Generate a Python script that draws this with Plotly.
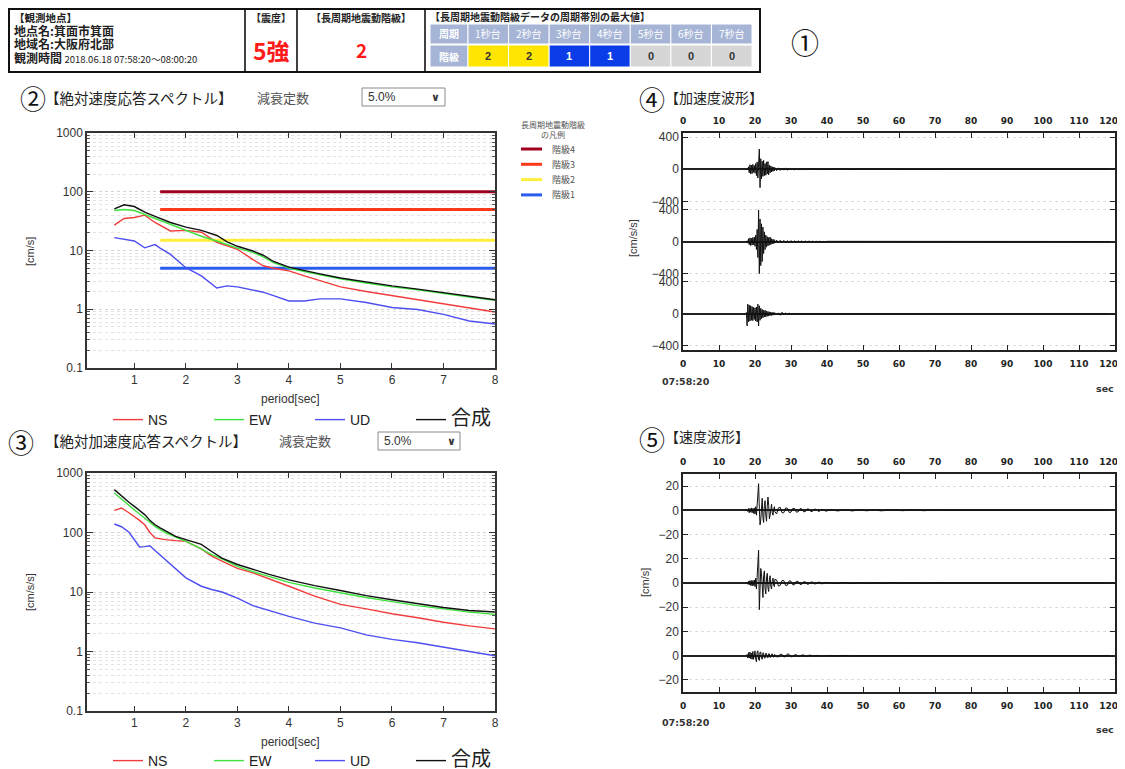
import plotly.graph_objects as go

W, H = 1125, 769
# the page body adds an 8 px margin, so reference pixel positions are shifted by it
OFF = 8
def X(px): return (px - OFF) / W
def Y(py): return 1 - (py - OFF) / H

JP = "Noto Sans CJK JP"
SANS = "Liberation Sans, Noto Sans CJK JP"

# ---------------- data ----------------
station_name = "箕面市箕面"
region_name = "大阪府北部"
obs_time = "2018.06.18 07:58:20〜08:00:20"
shindo = "5強"
lp_class = "2"
period_bands = ["1秒台", "2秒台", "3秒台", "4秒台", "5秒台", "6秒台", "7秒台"]
band_classes = [2, 2, 1, 1, 0, 0, 0]
damping = "5.0%"

# absolute velocity response spectrum [cm/s]
vel_period = [0.61, 0.8, 1.0, 1.2, 1.4, 1.5, 1.7, 2.0, 2.3, 2.6, 2.8, 3.0, 3.3, 3.5,
              3.7, 4.0, 4.3, 4.6, 5.0, 5.5, 6.0, 6.5, 7.0, 7.5, 8.0]
vel_ns = [27, 35, 36.5, 40, 30, 27, 21.5, 22, 20.5, 13.8, 12, 10.5, 7, 5.5,
          5.0, 4.5, 3.7, 3.1, 2.4, 2.0, 1.7, 1.45, 1.23, 1.05, 0.9]
vel_ew = [48, 50, 48, 41, 35, 32, 28, 22, 17.5, 14.5, 12.5, 11, 9.3, 7.8,
          6.2, 5.0, 4.4, 3.9, 3.3, 2.8, 2.4, 2.15, 1.85, 1.62, 1.42]
vel_ud = [16.6, 15.7, 14.5, 11.1, 12.6, 11, 8.6, 5.1, 3.7, 2.3, 2.5, 2.4, 2.1, 1.95,
          1.7, 1.38, 1.38, 1.5, 1.5, 1.3, 1.07, 0.99, 0.82, 0.63, 0.56]
vel_comb = [51, 60, 56, 45, 38, 35, 30, 25, 22, 18, 14, 11.8, 9.8, 8.3,
            6.5, 5.2, 4.5, 4.0, 3.4, 2.9, 2.5, 2.2, 1.9, 1.65, 1.45]

# long-period ground motion class thresholds [cm/s]
class_names = ["階級4", "階級3", "階級2", "階級1"]
class_levels = [100, 50, 15, 5]
class_period_range = [1.5, 8.0]
class_legend_title = ["長周期地震動階級", "の凡例"]

# absolute acceleration response spectrum [cm/s/s]
acc_period = [0.61, 0.75, 0.9, 1.0, 1.1, 1.2, 1.3, 1.4, 1.5, 1.6, 1.8, 2.0, 2.3, 2.5,
              2.7, 3.0, 3.3, 3.6, 4.0, 4.5, 5.0, 5.5, 6.0, 6.5, 7.0, 7.5, 8.0]
acc_ns = [235, 258, 213, 187, 160, 135, 100, 81, 78, 76, 73, 71, 53, 40,
          33, 25, 21, 17, 12.5, 8.5, 6.2, 5.2, 4.3, 3.7, 3.1, 2.7, 2.4]
acc_ew = [460, 360, 280, 240, 205, 175, 148, 127, 112, 100, 84, 71, 53, 42.5,
          36, 27, 22, 18.5, 14.5, 11.7, 9.6, 8.1, 6.9, 5.9, 5.2, 4.6, 4.2]
acc_ud = [139, 125, 100, 76, 57, 58, 60, 50, 42, 35, 25, 17.3, 12.5, 11,
          10, 7.9, 5.9, 4.9, 3.9, 3.0, 2.5, 1.9, 1.6, 1.4, 1.2, 1.0, 0.85]
acc_comb = [525, 410, 320, 275, 235, 200, 160, 135, 120, 107, 86, 76, 63, 48,
            37, 29, 24, 20, 16, 12.8, 10.6, 8.7, 7.4, 6.3, 5.5, 4.9, 4.6]

# waveform time axis ticks [s]
wave_ticks = [0, 10, 20, 30, 40, 50, 60, 70, 80, 90, 100, 110, 120]
wave_start = "07:58:20"

# waveform sample times [s from 07:58:20]
t_burst = [17.6, 17.8, 18.0, 18.2, 18.4, 18.6, 18.8, 19.0, 19.2, 19.4,
           19.6, 19.8, 20.0, 20.2, 20.4, 20.6, 20.8, 21.0, 21.2, 21.4,
           21.6, 21.8, 22.0, 22.2, 22.4, 22.6, 22.8, 23.0, 23.2, 23.4,
           23.6, 23.8, 24.0, 24.2, 24.4, 24.6, 24.8, 25.0, 25.2, 25.4]
t_tail = [25.5, 26.0, 26.5, 27.0, 27.5, 28.0, 28.5, 29.0, 29.5, 30.0,
          30.5, 31.0, 31.5, 32.0, 32.5, 33.0, 33.5, 34.0, 34.5, 35.0,
          35.5, 36.0, 36.5, 37.0, 37.5, 38.0, 38.5, 39.0, 39.5, 40.0]
t_long = [41, 43, 45, 47, 49, 51, 53, 55, 58, 61, 64, 67, 70, 74, 120]
wave_time = t_burst + t_tail + t_long

# acceleration waveforms [cm/s/s]
acc_wave_ns = [0, 5, -10, 30, -45, 55, -60, 50, -55, 60,
               -40, 45, -50, 70, -80, 90, -110, 150, 250, -230,
               130, -120, 100, -90, 110, -80, 70, -75, 90, -60,
               95, -70, 50, -45, 40, -35, 30, -28, 25, -22,
               20, -18, 16, -15, 14, -12, 12, -10, 10, -9,
               9, -8, 8, -7, 7, -6, 6, -6, 5, -5,
               5, -4, 4, -4, 3, -3, 3, -3, 2, -2,
               2, -2, 2, -1, 1, -1, 1, -1, 1, -1, 1, -1, 1, 0, 0]
acc_wave_ew = [0, 8, -20, 35, -40, 45, -50, 40, -45, 50,
               -40, 55, -60, 80, -100, 150, -200, 390, -400, 280,
               -300, 220, -250, 180, -150, 120, -100, 80, -70, 60,
               -55, 50, -45, 55, -40, 35, -30, 28, -25, 22,
               -20, 18, -17, 15, -14, 13, -12, 11, -10, 10,
               -9, 8, -8, 7, -7, 6, -6, 5, -5, 5,
               -4, 4, -4, 3, -3, 3, -3, 2, -2, 2,
               2, -2, 2, -1, 1, -1, 1, -1, 1, -1, 1, -1, 1, 0, 0]
acc_wave_ud = [20, -150, 120, -100, 110, -90, 100, -80, 90, -85,
               80, -70, 75, -90, 85, -100, 120, -150, 100, -80,
               70, -60, 55, -50, 45, -40, 45, -38, 35, -30,
               30, -28, 25, -22, 22, -20, 18, -17, 16, -15,
               14, -13, 12, -18, 20, -10, 9, -8, 8, -7,
               6, -6, 5, -5, 4, -4, 4, -3, 3, -3,
               3, -2, 2, -2, 2, -2, 1, -1, 1, -1,
               1, -1, 1, -1, 1, -1, 1, -1, 1, -1, 1, -1, 1, 0, 0]

# velocity waveforms [cm/s]
vel_wave_ns = [0, 0.5, -1, 1.5, -2, 1.5, -1.5, 2, -2, 1.5,
               -2.5, 2, -3, 3, -4, 6, 12, 22, 2, -12,
               -8, 6, 10, -6, -10, 4, 8, -4, -9, 3,
               11, 4, -7, -4, 4, 5, -2, -4, 1, 3,
               -1, -3, 2, 2.5, -2, -2, 2, 1.8, -1.8, -1.5,
               1.6, 1.5, -1.5, -1.2, 1.4, 1.2, -1.2, -1, 1.2, 1,
               -1, -0.8, 1, 0.8, -0.8, -0.6, 0.8, 0.6, -0.6, -0.5,
               0.5, -0.5, 0.5, -0.5, 0.4, -0.4, 0.4, -0.4, 0.3, -0.3, 0.3, -0.3, 0.2, 0, 0]
vel_wave_ew = [0, 0.5, -1, 1.5, -1.5, 2, -2, 2, -2.5, 2,
               -2, 2.5, -3, 4, -5, 8, 15, 27, -22, -10,
               12, 8, -8, -12, 6, 10, -5, -9, 4, 8,
               -4, -7, 3, 6, -3, -5, 2, 4, -2, -3,
               3, 2.5, -2.5, -2, 2, 2, -2, -1.8, 1.8, 1.5,
               -1.5, -1.4, 1.4, 1.2, -1.2, -1, 1, 1, -1, -0.8,
               0.8, 0.8, -0.8, -0.6, 0.6, 0.6, -0.6, -0.5, 0.5, 0.4,
               0.4, -0.4, 0.4, -0.4, 0.3, -0.3, 0.3, -0.3, 0.3, -0.2, 0.2, -0.2, 0.2, 0, 0]
vel_wave_ud = [0, 1, -2, 2.5, -2, 3, -2.5, 2, -3, 3.5,
               -3, 2.5, 4, -3, -5, 3, 4, -3, -4, 3,
               3, -2.5, -3, 2.5, 2, -2, -2, 2, 1.8, -1.5,
               -1.8, 1.5, 1.5, -1.5, -1.2, 1.2, 1.5, -1.2, -1, 1,
               1, -1, -1, 1.2, 1, -1, -0.8, 1.5, 1, -1,
               -0.6, 0.6, 0.8, -0.6, -0.5, 0.5, 0.5, -0.5, -0.4, 0.4,
               0.4, -0.4, -0.3, 0.3, 0.3, -0.3, -0.2, 0.2, 0.2, -0.2,
               0.2, -0.2, 0.2, -0.2, 0.1, -0.1, 0.1, -0.1, 0.1, -0.1, 0.1, -0.1, 0.1, 0, 0]

# ---------------- styles ----------------
comp_colors = {"NS": "#f23c3c", "EW": "#3fe23f", "UD": "#4e4ef2", "合成": "#111111"}
class_colors = {"階級4": "#a0001e", "階級3": "#ff3a1a", "階級2": "#ffee3a", "階級1": "#2a5cf0"}
band_fill = {2: "#ffe600", 1: "#0a3ce8", 0: "#d6d6d6"}
band_text = {2: "#333333", 1: "#ffffff", 0: "#333333"}
HEAD_BG = "#a6b5d6"
COMB_NAME = "<span style='font-size:20px'>合成</span>"
LOG_MINOR = [m * 10.0 ** e for e in range(-1, 3) for m in range(2, 10)]
# the last label sits at the very page edge: pad it so it stays fully visible
wave_ticktext = [str(v) for v in wave_ticks[:-1]] + [str(wave_ticks[-1]) + "&nbsp;" * 4]

fig = go.Figure()

# velocity spectrum: class thresholds
for name, lvl in zip(class_names, class_levels):
    fig.add_trace(go.Scatter(x=class_period_range, y=[lvl, lvl], mode="lines",
                             line=dict(color=class_colors[name], width=3),
                             name=name, showlegend=False, xaxis="x", yaxis="y"))
for name, vals in [("NS", vel_ns), ("EW", vel_ew), ("UD", vel_ud), ("合成", vel_comb)]:
    fig.add_trace(go.Scatter(x=vel_period, y=vals, mode="lines",
                             line=dict(color=comp_colors[name], width=1.4),
                             name=COMB_NAME if name == "合成" else name,
                             legend="legend", xaxis="x", yaxis="y"))
for name, vals in [("NS", acc_ns), ("EW", acc_ew), ("UD", acc_ud), ("合成", acc_comb)]:
    fig.add_trace(go.Scatter(x=acc_period, y=vals, mode="lines",
                             line=dict(color=comp_colors[name], width=1.4),
                             name=COMB_NAME if name == "合成" else name,
                             legend="legend2", xaxis="x2", yaxis="y2"))

# waveforms
for vals, xa, ya in [(acc_wave_ns, "x5", "y3"), (acc_wave_ew, "x3", "y4"), (acc_wave_ud, "x3", "y5"),
                     (vel_wave_ns, "x6", "y6"), (vel_wave_ew, "x4", "y7"), (vel_wave_ud, "x4", "y8")]:
    fig.add_trace(go.Scatter(x=wave_time, y=vals, mode="lines",
                             line=dict(color="#111111", width=1),
                             showlegend=False, xaxis=xa, yaxis=ya))

# ---------------- axes ----------------
def spec_x(anchor):
    return dict(domain=[X(87), X(495)], range=[0.08, 8], anchor=anchor, automargin=False,
                tickvals=[1, 2, 3, 4, 5, 6, 7, 8], ticks="inside", ticklen=5,
                tickcolor="#333", showline=True, linecolor="#333", linewidth=1.5,
                mirror="ticks", showgrid=False, zeroline=False,
                tickfont=dict(family=SANS, size=12, color="#333"))

def spec_y(top, bottom, anchor):
    return dict(domain=[Y(bottom), Y(top)], type="log", range=[-1, 3], anchor=anchor,
                automargin=False,
                tickvals=[0.1, 1, 10, 100, 1000], ticktext=["0.1", "1", "10", "100", "1000"],
                ticks="inside", ticklen=6, tickcolor="#333", showline=True,
                linecolor="#333", linewidth=1.5, mirror="ticks",
                showgrid=True, gridcolor="#d4d4d4", griddash="dot", zeroline=False,
                minor=dict(tickmode="array", tickvals=LOG_MINOR, ticks="inside", ticklen=3,
                           tickcolor="#555", showgrid=True, gridcolor="#e2e2e2", griddash="dot"),
                tickfont=dict(family=SANS, size=12, color="#333"))

def wave_x(anchor, side):
    return dict(domain=[X(683), X(1115)], range=[0, 120], anchor=anchor, side=side,
                automargin=False, tickvals=wave_ticks, ticktext=wave_ticktext,
                ticks="inside", ticklen=5,
                tickcolor="#222", showline=True, linecolor="#222", linewidth=1.5,
                showgrid=False, zeroline=False, ticklabelstandoff=4,
                ticklabeloverflow="allow",
                tickfont=dict(family="DejaVu Sans", size=9, color="#222", weight="bold"))

def wave_y(top, bottom, anchor, lim, tv):
    return dict(domain=[Y(bottom), Y(top)], range=[-lim, lim], anchor=anchor,
                automargin=False, tickvals=tv, ticks="inside", ticklen=5, tickcolor="#222",
                showline=True, linecolor="#222", linewidth=1.5, mirror="ticks",
                showgrid=True, gridcolor="#dddddd", griddash="dot",
                zeroline=True, zerolinecolor="#222", zerolinewidth=1.8,
                tickfont=dict(family=SANS, size=12, color="#333"))

a_top, a_bot = 133, 350
a_h = (a_bot - a_top) / 3
v_top, v_bot = 474, 692
v_h = (v_bot - v_top) / 3

layout_axes = dict(
    xaxis=spec_x("y"), yaxis=spec_y(133, 368, "x"),
    xaxis2=spec_x("y2"), yaxis2=spec_y(473, 711, "x2"),
    xaxis3=wave_x("y5", "bottom"), xaxis5=wave_x("y3", "top"),
    xaxis4=wave_x("y8", "bottom"), xaxis6=wave_x("y6", "top"),
    yaxis3=wave_y(a_top, a_top + a_h, "x5", 450, [-400, 0, 400]),
    yaxis4=wave_y(a_top + a_h, a_top + 2 * a_h, "x3", 450, [-400, 0, 400]),
    yaxis5=wave_y(a_top + 2 * a_h, a_bot, "x3", 450, [-400, 0, 400]),
    yaxis6=wave_y(v_top, v_top + v_h, "x6", 30, [-20, 0, 20]),
    yaxis7=wave_y(v_top + v_h, v_top + 2 * v_h, "x4", 30, [-20, 0, 20]),
    yaxis8=wave_y(v_top + 2 * v_h, v_bot, "x4", 30, [-20, 0, 20]),
)

# ---------------- text / decorations ----------------
annotations = []
shapes = []

def ann(text, x, y, size=12, color="#222", xanchor="left", family=JP, angle=0,
        yanchor="middle", align="left"):
    annotations.append(dict(text=text, x=X(x), y=Y(y), xref="paper", yref="paper",
                            xanchor=xanchor, yanchor=yanchor, showarrow=False, textangle=angle,
                            align=align, font=dict(family=family, size=size, color=color)))

def rect(x0, y0, x1, y1, fill=None, line="#000", width=1):
    shapes.append(dict(type="rect", xref="paper", yref="paper",
                       x0=X(x0), x1=X(x1), y0=Y(y1), y1=Y(y0),
                       fillcolor=fill if fill else "rgba(0,0,0,0)",
                       line=dict(color=line, width=width), layer="below" if fill else "above"))

def seg(x0, y0, x1, y1, color="#000", width=1.2):
    shapes.append(dict(type="line", xref="paper", yref="paper", x0=X(x0), x1=X(x1),
                       y0=Y(y0), y1=Y(y1), line=dict(color=color, width=width)))

# header box
rect(9, 9, 760, 72, line="#111", width=2)
for xv in [245, 297, 425]:
    seg(xv, 9, xv, 72, width=1.5)
big = "<span style='font-size:12px'>"
ann("<b>【観測地点】</b><br>"
    "<b>" + big + "地点名:" + station_name + "</span></b><br>"
    "<b>" + big + "地域名:" + region_name + "</span></b><br>"
    "<b>" + big + "観測時間</span></b> <span style='font-size:9.5px'>" + obs_time + "</span>",
    12, 38, size=10.5)
ann("<b>【震度】</b>", 271, 17, size=10, xanchor="center")
ann("<b>" + shindo + "</b>", 271, 50, size=23, color="#ff1a1a", xanchor="center")
ann("<b>【長周期地震動階級】</b>", 361, 17, size=10, xanchor="center")
ann("<b>" + lp_class + "</b>", 361, 50, size=19, color="#ff1a1a", xanchor="center")
ann("<b>【長周期地震動階級データの周期帯別の最大値】</b>", 428, 16, size=10)

# period band table
rect(430, 24, 468, 44, fill=HEAD_BG, line="#ffffff", width=1)
rect(430, 45, 468, 67, fill=HEAD_BG, line="#ffffff", width=1)
ann("<b>周期</b>", 449, 34, size=10, color="#ffffff", xanchor="center")
ann("<b>階級</b>", 449, 56, size=10, color="#ffffff", xanchor="center")
cw = (752 - 468) / len(period_bands)
for i, (lab, cls) in enumerate(zip(period_bands, band_classes)):
    x0 = 468 + i * cw
    rect(x0, 24, x0 + cw, 44, fill=HEAD_BG, line="#ffffff", width=1)
    rect(x0, 45, x0 + cw, 67, fill=band_fill[cls], line="#ffffff", width=1)
    ann(lab, x0 + cw / 2, 34, size=10, color="#ffffff", xanchor="center")
    ann("<b>" + str(cls) + "</b>", x0 + cw / 2, 56, size=11, color=band_text[cls],
        xanchor="center", family=SANS)
ann("①", 805, 42, size=28, xanchor="center", color="#111")

# class legend (velocity spectrum)
ann(class_legend_title[0] + "<br>" + class_legend_title[1], 553, 129.5, size=8,
    xanchor="center", color="#555", align="center")
for i, name in enumerate(class_names):
    yy = 149 + i * 15.3
    seg(521, yy, 542, yy, color=class_colors[name], width=3)
    ann(name, 550, yy, size=9, color="#555")

# chart titles
def dropdown(x0, y0, x1, y1):
    rect(x0, y0, x1, y1, line="#8a8a8a", width=1)
    ann(damping, x0 + 4, (y0 + y1) / 2, size=12, color="#333", family=SANS)
    ann("<b>∨</b>", x1 - 9, (y0 + y1) / 2, size=11, color="#333", xanchor="center",
        family="DejaVu Sans")

ann("②", 33, 97, size=26, xanchor="center", color="#111")
ann("【絶対速度応答スペクトル】", 43, 97, size=14.5, color="#222")
ann("減衰定数", 255, 97, size=13, color="#555")
dropdown(362, 88, 445, 106)

ann("③", 21, 441, size=26, xanchor="center", color="#111")
ann("【絶対加速度応答スペクトル】", 43, 440, size=14.5, color="#222")
ann("減衰定数", 277, 440, size=13, color="#555")
dropdown(378, 432, 460, 450)

ann("④", 652, 99, size=26, xanchor="center", color="#111")
ann("【加速度波形】", 663, 97, size=14, color="#222")
ann("⑤", 652, 438, size=26, xanchor="center", color="#111")
ann("【速度波形】", 663, 436, size=14, color="#222")

# axis titles
ann("[cm/s]", 30, 252, size=11, xanchor="center", angle=-90, family=SANS, color="#333")
ann("[cm/s/s]", 30, 592, size=11, xanchor="center", angle=-90, family=SANS, color="#333")
ann("period[sec]", 290, 399, size=12, xanchor="center", family=SANS, color="#333")
ann("period[sec]", 290, 742, size=12, xanchor="center", family=SANS, color="#333")
ann("[cm/s/s]", 633, 238, size=11, xanchor="center", angle=-90, family=SANS, color="#333")
ann("[cm/s]", 645, 583, size=11, xanchor="center", angle=-90, family=SANS, color="#333")
ann("<b>" + wave_start + "</b>", 686, 381, size=9.5, xanchor="center", family="DejaVu Sans", color="#333")
ann("<b>sec</b>", 1116, 388, size=9.5, xanchor="right", family="DejaVu Sans", color="#333")
ann("<b>" + wave_start + "</b>", 686, 722, size=9.5, xanchor="center", family="DejaVu Sans", color="#333")
ann("<b>sec</b>", 1116, 729, size=9.5, xanchor="right", family="DejaVu Sans", color="#333")

legend_common = dict(orientation="h", xanchor="left", yanchor="top", bgcolor="rgba(0,0,0,0)",
                     font=dict(family=SANS, size=14, color="#222"), entrywidthmode="pixels",
                     entrywidth=56, itemclick=False, itemdoubleclick=False)

fig.update_layout(
    width=W, height=H, margin=dict(l=0, r=0, t=0, b=0, autoexpand=False),
    paper_bgcolor="white", plot_bgcolor="white",
    font=dict(family=SANS, color="#222"),
    annotations=annotations, shapes=shapes,
    legend=dict(x=X(108), y=Y(404), **legend_common),
    legend2=dict(x=X(108), y=Y(745), **legend_common),
    **layout_axes,
)

fig.write_html("out.html")
